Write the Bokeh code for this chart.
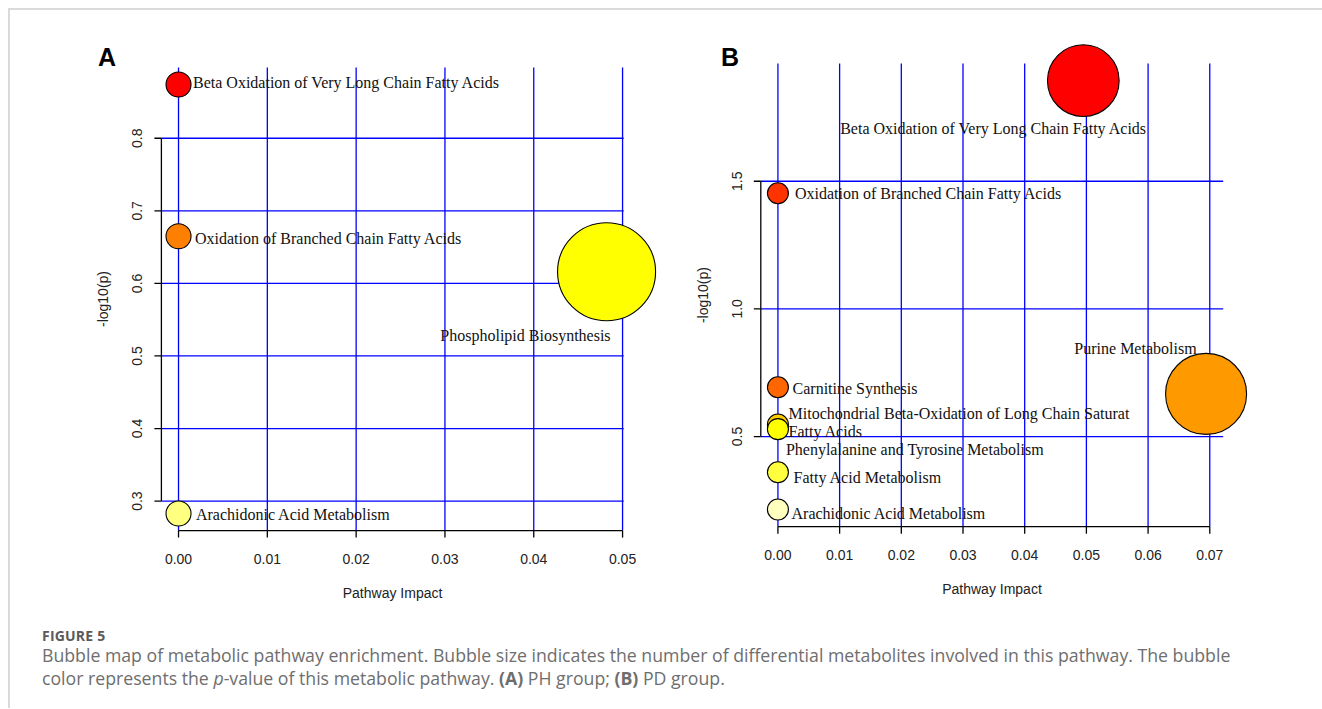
import math
import colorsys
from bokeh.plotting import figure
from bokeh.models import Range1d, Div
from bokeh.layouts import row, column
from bokeh.embed import file_html
from bokeh.resources import INLINE
from bokeh.core.properties import value

# ---------------- data ----------------
A_pathways = [
    "Beta Oxidation of Very Long Chain Fatty Acids",
    "Oxidation of Branched Chain Fatty Acids",
    "Phospholipid Biosynthesis",
    "Arachidonic Acid Metabolism",
]
A_impact = [0.0, 0.0, 0.0482, 0.0]
A_logp = [0.874, 0.665, 0.616, 0.283]
A_xticks = [0.00, 0.01, 0.02, 0.03, 0.04, 0.05]
A_yticks = [0.3, 0.4, 0.5, 0.6, 0.7, 0.8]

B_pathways = [
    "Beta Oxidation of Very Long Chain Fatty Acids",
    "Oxidation of Branched Chain Fatty Acids",
    "Carnitine Synthesis",
    "Purine Metabolism",
    "Mitochondrial Beta-Oxidation of Long Chain Saturat\nFatty Acids",
    "Phenylalanine and Tyrosine Metabolism",
    "Fatty Acid Metabolism",
    "Arachidonic Acid Metabolism",
]
B_impact = [0.0495, 0.0, 0.0, 0.0694, 0.0, 0.0, 0.0, 0.0]
B_logp = [1.894, 1.453, 0.693, 0.667, 0.547, 0.529, 0.360, 0.214]
B_xticks = [0.00, 0.01, 0.02, 0.03, 0.04, 0.05, 0.06, 0.07]
B_yticks = [0.5, 1.0, 1.5]

X_TITLE = "Pathway Impact"
Y_TITLE = "-log10(p)"
CAPTION_HEAD = "FIGURE 5"
CAPTION_LINE1 = ("Bubble map of metabolic pathway enrichment. Bubble size indicates the number of "
                 "differential metabolites involved in this pathway. The bubble")
CAPTION_LINE2 = ("color represents the <i>p</i>-value of this metabolic pathway. "
                 "<b>(A)</b> PH group; <b>(B)</b> PD group.")

# ---------------- styles ----------------
SERIF = "Liberation Serif"
SANS = "Liberation Sans"
GRID_COLOR = "#0000FF"


def heat_colors(n):
    """R's heat.colors(n)."""
    j = n // 4
    i = n - j
    out = []
    for k in range(i):
        h = (1.0 / 6.0) * k / (i - 1) if i > 1 else 0.0
        out.append((h, 1.0, 1.0))
    for k in range(j):
        s0, s1 = 1 - 1 / (2 * j), 1 / (2 * j)
        s = s0 + (s1 - s0) * (k / (j - 1) if j > 1 else 0.0)
        out.append((1.0 / 6.0, s, 1.0))
    hexes = []
    for h, s, v in out:
        r, g, b = colorsys.hsv_to_rgb(h, s, v)
        hexes.append("#%02X%02X%02X" % (round(r * 255), round(g * 255), round(b * 255)))
    return hexes


def txt(p, x, y, text, size, font, align="center", baseline="middle", angle=0.0,
        color="#000000", style="normal", line_height=1.2):
    p.text(x=x, y=y, text=text, text_font=value(font), text_font_size=size,
           text_align=align, text_baseline=baseline, angle=angle, text_color=color,
           text_font_style=style, text_line_height=line_height)


def build_panel(letter, names, impact, logp, xticks, yticks, W, H, box, letter_px,
                rmin, rmax, lab_dx, lab_dy, lab_align):
    left, right, top, bottom = box

    def ext(v):
        lo, hi = min(v), max(v)
        d = (hi - lo) * 0.04
        return lo - d, hi + d

    xlo, xhi = ext(impact)
    ylo, yhi = ext(logp)
    sx = (xhi - xlo) / (right - left)   # data units per pixel
    sy = (yhi - ylo) / (bottom - top)
    fx0 = xlo - left * sx
    fy1 = yhi + top * sy

    p = figure(width=W, height=H,
               x_range=Range1d(fx0, fx0 + W * sx), y_range=Range1d(fy1 - H * sy, fy1),
               output_backend="svg", toolbar_location=None,
               x_axis_location=None, y_axis_location=None, min_border=0, title=None)
    p.outline_line_color = None
    p.grid.visible = False
    p.background_fill_color = "white"
    p.border_fill_color = "white"

    nx, ny = len(xticks), len(yticks)
    # grid lines (R abline style)
    p.segment(x0=xticks, y0=[ylo] * nx, x1=xticks, y1=[yhi] * nx,
              line_color=GRID_COLOR, line_width=1.3)
    p.segment(x0=[xlo] * ny, y0=yticks, x1=[xhi] * ny, y1=yticks,
              line_color=GRID_COLOR, line_width=1.3)

    # axes (R style: line spans first..last tick)
    tick = 7
    p.segment(x0=[xticks[0]], y0=[ylo], x1=[xticks[-1]], y1=[ylo], line_color="#000000", line_width=1.3)
    p.segment(x0=xticks, y0=[ylo] * nx, x1=xticks, y1=[ylo - tick * sy] * nx,
              line_color="#000000", line_width=1.3)
    p.segment(x0=[xlo], y0=[yticks[0]], x1=[xlo], y1=[yticks[-1]], line_color="#000000", line_width=1.3)
    p.segment(x0=[xlo] * ny, y0=yticks, x1=[xlo - tick * sx] * ny, y1=yticks,
              line_color="#000000", line_width=1.3)

    # bubbles
    n = len(names)
    order = sorted(range(n), key=lambda k: -logp[k])
    hc = heat_colors(n)
    colors = [None] * n
    for rank, k in enumerate(order):
        colors[k] = hc[rank]
    sq = [math.sqrt(abs(v)) for v in impact]
    smin, smax = min(sq), max(sq)
    radii = [rmin + (rmax - rmin) * (s - smin) / (smax - smin) for s in sq]
    p.scatter(x=impact, y=logp, size=[2 * r for r in radii], fill_color=colors,
              line_color="#000000", line_width=1.1)

    # pathway labels
    for k in range(n):
        txt(p, [impact[k] + lab_dx[k] * sx], [logp[k] - lab_dy[k] * sy], [names[k]],
            "16px", SERIF, align=lab_align[k], color="#111111", line_height=1.09)

    # tick labels
    txt(p, xticks, [ylo - 28 * sy] * nx, ["%.2f" % t for t in xticks], "14px", SANS, color="#222222")
    txt(p, [xlo - 24 * sx] * ny, yticks, ["%.1f" % t for t in yticks], "14px", SANS,
        angle=math.pi / 2, color="#222222")
    # axis titles
    txt(p, [(xlo + xhi) / 2], [ylo - 62 * sy], [X_TITLE], "14px", SANS, color="#222222")
    txt(p, [xlo - 58 * sx], [(ylo + yhi) / 2], [Y_TITLE], "14px", SANS,
        angle=math.pi / 2, color="#222222")
    # panel letter
    txt(p, [fx0 + letter_px[0] * sx], [fy1 - letter_px[1] * sy], [letter], "25px", SANS,
        style="bold", color="#000000")
    return p


pA = build_panel("A", A_pathways, A_impact, A_logp, A_xticks, A_yticks,
                 650, 598, (150.9, 613.2, 56.9, 520.1), (96.5, 46), 12.5, 49,
                 [14.5, 16.5, 4, 17.4], [-2, 2.3, 63.5, 1],
                 ["left", "left", "right", "left"])
pB = build_panel("B", B_pathways, B_impact, B_logp, B_xticks, B_yticks,
                 654, 598, (100.3, 562.7, 53.0, 516.2), (69.5, 46), 10.5, 40.5,
                 [-89.6, 17, 14.6, -9.5, 10.6, 8, 15.6, 13.6],
                 [48.3, 0.6, 1.6, -45.2, -2, 20.5, 5.6, 3.7],
                 ["center", "left", "left", "right", "left", "left", "left", "left"])

cap_html = (
    '<div style="font-family: \'Open Sans\', Lato, sans-serif; padding: 14px 0 0 27px;">'
    '<div style="font-size: 14px; font-weight: bold; color: #5a5a5a; line-height: 17px; letter-spacing: 0.2px;">'
    + CAPTION_HEAD + '</div>'
    '<div style="font-size: 17.7px; color: #6e6e6e; line-height: 23px; white-space: nowrap;">'
    + CAPTION_LINE1 + '<br>' + CAPTION_LINE2 + '</div></div>'
)
cap = Div(text=cap_html, width=1304, height=90)

layout = column(row(pA, pB), cap, margin=(8, 0, 0, 8),
                styles={"border-top": "2px solid #dadada", "border-left": "2px solid #dadada"})

open("out.html", "w").write(file_html(layout, INLINE))
